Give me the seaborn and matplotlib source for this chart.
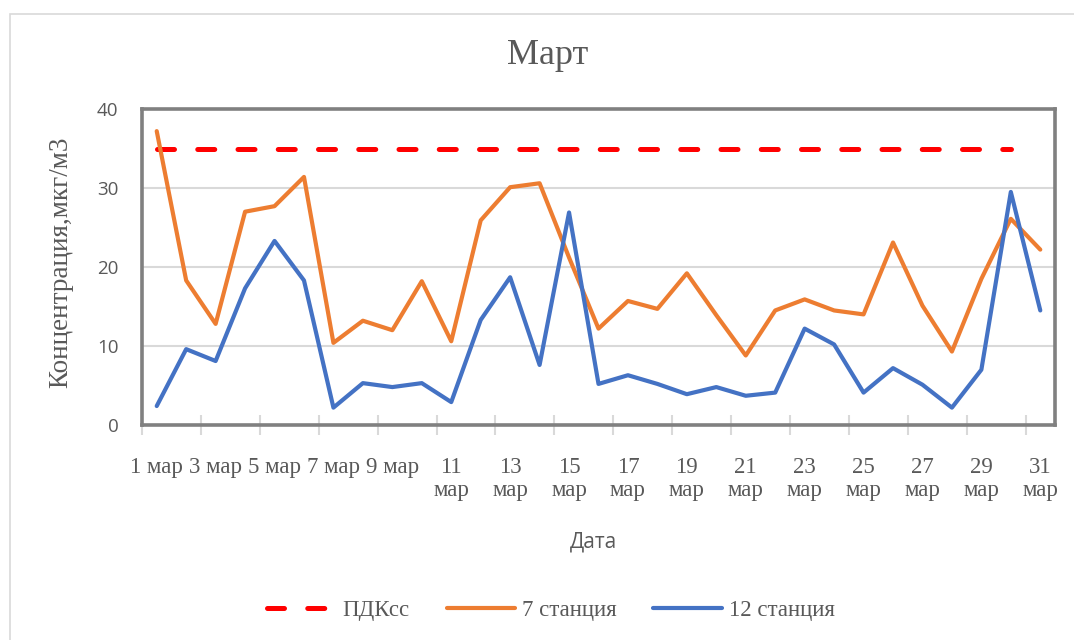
import numpy as np
import pandas as pd
import matplotlib
matplotlib.use("Agg")
import matplotlib.pyplot as plt
from matplotlib.patches import Rectangle
import seaborn as sns

# Daily concentrations for March
DAYS = list(range(1, 32))
PDK_SS = [35] * 30 + [np.nan]
STATION_7 = [37.2, 18.3, 12.8, 27.0, 27.7, 31.4, 10.4, 13.2, 12.0, 18.2,
             10.6, 25.9, 30.1, 30.6, 21.2, 12.2, 15.7, 14.7, 19.2, 13.9,
             8.8, 14.5, 15.9, 14.5, 14.0, 23.1, 15.1, 9.3, 18.5, 26.1, 22.2]
STATION_12 = [2.4, 9.6, 8.1, 17.3, 23.3, 18.3, 2.2, 5.3, 4.8, 5.3,
              2.9, 13.3, 18.7, 7.6, 26.9, 5.2, 6.3, 5.2, 3.9, 4.8,
              3.7, 4.1, 12.2, 10.2, 4.1, 7.2, 5.1, 2.2, 7.0, 29.5, 14.5]
TICK_DAYS = list(range(1, 32, 2))
TICK_LABELS = ["1 мар", "3 мар", "5 мар", "7 мар", "9 мар",
               "11\nмар", "13\nмар", "15\nмар", "17\nмар", "19\nмар",
               "21\nмар", "23\nмар", "25\nмар", "27\nмар", "29\nмар", "31\nмар"]
Y_TICKS = [0, 10, 20, 30, 40]
SERIES_NAMES = ["ПДКсс", "7 станция", "12 станция"]

TEXT = "#595959"
SERIF = "Liberation Serif"
SANS = "Open Sans"

sns.set_theme(style="white")
plt.rcParams["font.family"] = [SERIF, "DejaVu Serif"]

W, H = 1074, 640
fig = plt.figure(figsize=(W / 100, H / 100), dpi=100)

# light outer frame of the chart area
fig.patches.append(Rectangle((10 / W, -0.2), 1.2, 1.2 - 14 / H,
                             transform=fig.transFigure, fill=False,
                             edgecolor="#d9d9d9", linewidth=1.2, zorder=0))

left, right, top, bottom = 142, 1055, 109, 425
ax = fig.add_axes([left / W, 1 - bottom / H, (right - left) / W, (bottom - top) / H])

df = pd.DataFrame({"day": DAYS, "pdk": PDK_SS, "s7": STATION_7, "s12": STATION_12})
df["pos"] = df["day"] - 1

sns.lineplot(data=df, x="pos", y="pdk", ax=ax, color="#FF0000", linewidth=3.6,
             linestyle=(0, (3.4, 4.65)), dash_capstyle="round",
             estimator=None, label=SERIES_NAMES[0])
sns.lineplot(data=df, x="pos", y="s7", ax=ax, color="#ED7D31", linewidth=3.0,
             solid_capstyle="round", solid_joinstyle="round",
             estimator=None, label=SERIES_NAMES[1])
sns.lineplot(data=df, x="pos", y="s12", ax=ax, color="#4472C4", linewidth=3.0,
             solid_capstyle="round", solid_joinstyle="round",
             estimator=None, label=SERIES_NAMES[2])

ax.set_xlim(-0.5, len(DAYS) - 0.5)
ax.set_ylim(0, 40)
ax.set_xlabel("")
ax.set_ylabel("")

# horizontal gridlines
ax.set_yticks(Y_TICKS)
ax.set_yticklabels([str(v) for v in Y_TICKS], fontfamily=SANS, fontsize=13.5, color=TEXT)
ax.yaxis.grid(True, color="#d9d9d9", linewidth=1.5)
ax.xaxis.grid(False)
ax.tick_params(axis="y", length=0, pad=17)

# category labels every second day, tick marks between categories
ax.set_xticks([d - 1 for d in TICK_DAYS])
ax.set_xticklabels(TICK_LABELS, fontfamily=SERIF, fontsize=16.5, color=TEXT,
                   linespacing=1.1)
ax.tick_params(axis="x", which="major", length=0, pad=23)
ax.set_xticks([d - 1.5 for d in TICK_DAYS], minor=True)
ax.tick_params(axis="x", which="minor", length=14, width=1.5, direction="inout",
               color="#d9d9d9", bottom=True)
ax.set_axisbelow(True)

for sp in ax.spines.values():
    sp.set_visible(True)
    sp.set_color("#808080")
    sp.set_linewidth(2.6)

fig.text(548 / W, 1 - 55 / H, "Март", ha="center", va="center",
         fontfamily=SERIF, fontsize=26, color=TEXT)
fig.text(61 / W, 1 - 262 / H, "Концентрация,мкг/м3", rotation=90,
         ha="center", va="center", fontfamily=SERIF, fontsize=19.5, color=TEXT)
fig.text(594 / W, 1 - 542 / H, "Дата", ha="center", va="center",
         fontfamily=SANS, fontsize=15, color=TEXT)

handles, labels = ax.get_legend_handles_labels()
leg = fig.legend(handles, labels, loc="center", bbox_to_anchor=(551 / W, 1 - 610 / H),
                 ncol=3, frameon=False, handlelength=3.0, handletextpad=0.3,
                 columnspacing=1.6, prop={"family": SERIF, "size": 16.5})
for t in leg.get_texts():
    t.set_color(TEXT)
ax.get_legend().remove()

fig.savefig("out.png", dpi=100)
